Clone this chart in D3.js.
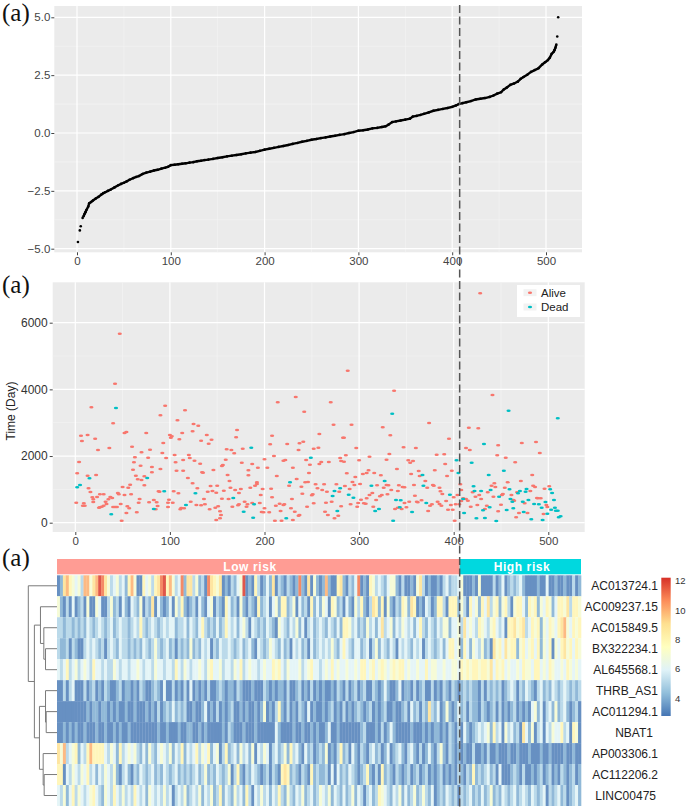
<!DOCTYPE html>
<html>
<head>
<meta charset="utf-8">
<script src="https://cdn.jsdelivr.net/npm/d3@7"></script>
<style>
  body { margin: 0; background: #fff; }
  svg { display: block; font-family: "Liberation Sans", Arial, sans-serif; }
  .panel-tag { font-family: "Liberation Serif", serif; font-size: 25px; fill: #111; }
  .axis path { display: none; }
  .axis line { stroke: #444; }
</style>
</head>
<body>
<div id="chart"></div>
<script>
// risk score curve
var riskRank = [1,3,4,6,7,8,9,10,12,13,15,17,20,23,26,28,30,33,36,40,44,47,50,53,56,60,63,66,70,74,78,82,86,90,94,97,100,104,108,112,116,120,124,128,132,136,140,145,150,155,160,165,170,175,180,185,190,195,200,205,210,215,220,225,230,235,240,245,250,255,260,265,270,275,280,285,290,295,300,305,310,315,320,325,329,332,336,340,345,350,355,358,362,366,370,375,380,385,390,395,400,404,407,411,415,420,425,430,435,440,444,448,452,455,458,462,466,470,473,476,480,484,488,492,496,499,502,504,506,508,509,510,511,512,513];
var riskScore = [-4.71,-4.21,-4.03,-3.67,-3.6,-3.5,-3.42,-3.33,-3.18,-3.04,-2.98,-2.92,-2.83,-2.76,-2.66,-2.6,-2.56,-2.5,-2.44,-2.35,-2.26,-2.2,-2.15,-2.09,-2.02,-1.95,-1.9,-1.86,-1.77,-1.71,-1.67,-1.62,-1.59,-1.54,-1.5,-1.46,-1.39,-1.37,-1.35,-1.33,-1.31,-1.28,-1.26,-1.22,-1.2,-1.17,-1.15,-1.12,-1.08,-1.05,-1.01,-0.98,-0.95,-0.92,-0.88,-0.85,-0.82,-0.77,-0.72,-0.68,-0.64,-0.6,-0.56,-0.52,-0.47,-0.43,-0.38,-0.34,-0.29,-0.26,-0.22,-0.19,-0.15,-0.12,-0.08,-0.05,0,0.04,0.1,0.12,0.15,0.2,0.22,0.26,0.29,0.36,0.47,0.5,0.54,0.58,0.62,0.71,0.74,0.78,0.83,0.89,0.96,1.0,1.04,1.08,1.13,1.19,1.25,1.29,1.33,1.38,1.45,1.48,1.51,1.56,1.62,1.7,1.76,1.88,1.96,2.08,2.14,2.22,2.34,2.42,2.52,2.64,2.72,2.8,2.96,3.06,3.15,3.25,3.42,3.5,3.58,3.68,3.82,4.17,5.0];

// survival time by risk rank, [rank, days]
var alivePoints = [[1,600],[2,1480],[4,1820],[6,2610],[7,2450],[13,2630],[17,3460],[21,2520],[24,2180],[22,1430],[13,1410],[14,1030],[16,920],[18,760],[23,770],[19,620],[19,700],[9,580],[8,510],[10,510],[25,450],[26,460],[28,480],[30,510],[26,850],[30,850],[32,630],[33,560],[35,700],[37,770],[39,740],[36,2240],[40,2980],[42,4170],[47,5670],[45,890],[46,850],[40,470],[42,470],[44,470],[48,560],[49,60],[50,1070],[52,2690],[54,2720],[52,830],[54,290],[55,490],[57,430],[56,1050],[58,1140],[59,850],[60,2280],[61,1590],[63,1960],[62,1810],[64,1410],[65,310],[66,1300],[67,600],[68,710],[69,1710],[70,2110],[70,1280],[73,1390],[73,1120],[75,2690],[77,1950],[79,2190],[78,610],[81,1670],[81,1510],[83,680],[86,610],[87,500],[85,400],[88,940],[89,930],[90,1610],[92,2090],[93,2390],[95,3510],[90,3220],[96,1940],[98,470],[98,600],[99,690],[100,2630],[101,2550],[102,2590],[103,600],[104,940],[105,2030],[106,1810],[107,1560],[109,880],[108,3070],[110,2500],[111,400],[112,440],[113,2690],[114,1560],[114,1880],[116,3370],[115,430],[119,1340],[121,1940],[120,2030],[122,630],[124,2740],[124,1180],[126,1860],[128,530],[125,2960],[130,2910],[133,520],[132,1770],[134,1510],[135,1500],[129,1030],[136,710],[137,550],[139,2630],[141,2370],[133,2460],[144,2490],[142,400],[143,1100],[145,950],[140,930],[146,1580],[149,900],[149,80],[153,130],[154,230],[153,340],[151,490],[148,450],[150,1110],[155,720],[156,1730],[155,1700],[157,960],[159,1890],[161,1430],[163,1250],[164,1050],[166,480],[162,710],[160,2200],[165,2180],[168,2080],[169,980],[170,2560],[171,2780],[172,520],[173,550],[173,890],[175,1010],[176,1800],[177,2220],[179,630],[181,480],[182,550],[183,1570],[183,1420],[185,1050],[187,1760],[187,590],[190,1110],[192,1210],[192,1160],[193,1650],[195,590],[196,830],[198,1010],[197,320],[199,310],[200,1900],[200,430],[203,1650],[205,310],[207,1020],[206,2350],[208,2610],[208,760],[210,2000],[213,1400],[212,510],[214,3610],[216,570],[217,350],[211,60],[218,60],[220,1860],[222,1880],[220,530],[221,550],[224,2360],[226,1110],[228,430],[229,710],[230,1650],[233,3770],[234,1310],[232,330],[236,2180],[236,210],[230,80],[237,230],[237,2380],[239,1080],[241,2430],[242,3330],[240,870],[244,1880],[245,480],[243,1210],[246,1220],[247,1490],[248,1740],[252,2220],[250,820],[251,850],[257,2250],[252,580],[254,1150],[256,1030],[258,1760],[258,2660],[260,1820],[261,980],[263,1150],[264,330],[265,600],[267,230],[266,930],[268,1820],[270,3610],[271,630],[273,2940],[274,130],[276,1150],[278,210],[279,930],[280,1940],[281,1850],[283,2550],[281,490],[288,4560],[292,2940],[284,2550],[286,2020],[297,2240],[300,1870],[284,1830],[311,1980],[290,1010],[287,1480],[296,1370],[293,1220],[295,1130],[301,1160],[285,1100],[302,690],[308,730],[307,570],[305,580],[299,590],[298,480],[291,550],[311,830],[314,890],[304,1460],[308,1490],[310,1570],[316,1490],[323,1420],[319,1120],[318,680],[315,480],[322,790],[324,830],[326,1050],[329,1130],[331,1120],[330,850],[334,980],[325,2860],[333,2620],[332,2060],[329,1890],[337,3960],[340,1610],[342,1120],[341,950],[338,410],[341,450],[345,410],[346,1070],[348,1060],[347,2260],[348,590],[350,460],[353,630],[352,1870],[354,1800],[357,1850],[355,1460],[358,1130],[359,810],[360,2240],[361,630],[362,610],[363,1550],[364,1400],[366,670],[370,1250],[372,1050],[373,350],[374,2990],[375,510],[377,550],[378,1130],[379,1110],[380,1570],[382,2040],[383,630],[385,1050],[385,560],[386,940],[387,510],[388,860],[390,2050],[391,1760],[392,650],[393,1400],[394,390],[395,2520],[397,530],[398,1560],[399,390],[401,60],[400,760],[402,550],[404,830],[406,550],[407,1150],[408,980],[408,650],[410,730],[413,710],[413,2240],[415,660],[416,2850],[417,2180],[418,480],[420,910],[423,780],[425,530],[426,2830],[427,830],[429,710],[433,410],[435,510],[436,910],[440,1110],[441,3830],[442,780],[443,1180],[444,1070],[446,2020],[447,2320],[447,340],[450,540],[451,830],[452,860],[454,1050],[455,1950],[457,1210],[461,830],[463,680],[464,660],[465,1810],[466,160],[467,910],[469,290],[471,1250],[472,2390],[475,580],[478,290],[481,950],[483,1430],[484,1110],[486,1070],[487,2420],[488,740],[489,730],[491,2090],[492,730],[495,260],[496,1020],[498,530],[499,470],[501,1090],[428,6880]];
var deadPoints = [[2,1060],[5,1130],[15,1330],[38,250],[43,3440],[76,1340],[83,410],[94,940],[117,530],[127,880],[167,740],[178,330],[186,2250],[188,150],[189,550],[223,130],[227,1210],[249,1950],[272,800],[274,950],[277,350],[280,1030],[335,3270],[327,1250],[313,1110],[289,840],[294,750],[317,350],[321,410],[336,60],[339,680],[344,670],[343,460],[356,320],[367,1430],[368,1110],[371,590],[396,840],[403,1870],[405,1490],[410,710],[411,290],[419,1800],[421,1090],[422,950],[424,130],[429,950],[431,370],[432,2360],[433,140],[437,1430],[438,460],[439,980],[445,50],[448,780],[453,1560],[456,380],[458,3360],[459,1000],[460,710],[462,630],[463,430],[468,880],[470,950],[473,630],[474,320],[476,930],[477,1010],[479,680],[482,100],[485,560],[490,550],[493,450],[494,80],[497,620],[499,270],[502,1000],[503,390],[504,890],[506,680],[507,450],[508,360],[510,360],[510,3130],[511,160],[513,190]];

var xTicks = [0, 100, 200, 300, 400, 500];
var cutoffRank = 407;

// heatmap: gene names and expression, left to right in risk order
var genes = ["AC013724.1","AC009237.15","AC015849.5","BX322234.1","AL645568.1","THRB_AS1","AC011294.1","NBAT1","AP003306.1","AC112206.2","LINC00475"];
var exprAC013724 = [3,4,9,10,8,7,6,7,5,10,10,7,9,10,12,11,9,7,5,6,7,5,6,4,8,10,7,3,3,8,6,7,5,8,9,11,12,8,10,7,5,6,11,4,9, 9,5,7,4,5,3,11,9,8,7,9,3,4,3,5,4,6,7,12,3,4,3,8,5,3,4,6,4,9,3,5,4,3,5,4,3,4,11,4,3,9,3,7,4,3, 4,10,4,3,3,8,9,4,3,5,4,6,11,3,4,3,8,7,5,6,5,4,6,7,7,4,3,5,3,3,4,3,7,9,5,3,4,3,3,4,3,5,6,4,5, 5,6,7,3,3,3,4,3,7,3,3,3,3,5,3,4,6,3,4,5,4,5,6,4,3,3,3,3,4,3,3,6,3,3,4,3,3,4,3,3,5,3,4];
var exprAC009237 = [7,4,3,5,3,6,3,4,5,3,7,3,3,7,6,3,3,5,7,4,5,3,6,4,3,6,5,4,7,3,5,4,9,3,6,4,3,4,6,3,7,5,8,4,3, 4,5,3,6,4,3,6,7,3,5,4,3,8,6,4,5,3,7,4,3,5,4,3,8,4,5,6,3,6,7,4,8,8,4,5,7,3,6,4,5,3,8,4,6,4, 7,6,3,8,7,4,5,3,6,4,3,7,5,8,4,3,5,9,8,4,8,3,7,4,3,5,4,8,7,4,9,8,3,4,3,6,5,3,4,8,8,5,3,8,8, 8,4,7,5,3,8,6,7,4,8,6,9,5,7,8,4,7,8,5,3,7,8,8,6,4,8,7,8,4,7,6,8,7,4,6,8,8,7,9,5,8,8,7];
var exprAC015849 = [5,5,4,5,5,4,5,4,5,4,6,5,4,5,6,5,4,5,6,4,5,6,5,5,4,5,6,5,8,5,4,5,6,5,4,5,6,5,6,6,4,5,5,6,4, 6,5,4,6,8,5,4,5,4,6,4,5,8,6,5,6,4,6,7,5,3,6,5,4,5,4,6,5,4,3,7,6,5,4,6,5,7,4,6,3,5,6,4,5,6, 5,4,6,5,4,6,4,8,8,7,5,6,4,5,4,7,5,6,4,6,9,5,6,7,4,6,5,7,6,5,6,4,6,8,5,4,6,5,4,6,5,7,7,4,6, 6,7,5,9,6,7,6,5,8,7,6,5,7,8,6,5,6,3,8,8,9,7,8,9,5,6,8,7,8,4,7,6,8,7,6,8,9,10,7,6,8,7,8];
var exprBX322234 = [5,4,4,5,3,5,4,3,3,5,6,5,6,5,4,5,3,5,6,5,4,6,5,5,4,5,4,5,4,6,5,4,5,7,5,4,5,6,4,5,3,5,4,5,4, 7,4,5,4,6,5,6,3,5,4,6,5,5,6,5,4,5,6,4,5,6,4,3,6,5,4,5,7,6,5,4,6,4,5,3,6,5,6,4,5,3,6,4,5,6, 5,6,5,7,5,4,6,8,6,5,4,6,6,4,5,6,3,5,7,4,6,5,4,6,5,3,6,5,6,5,4,6,5,6,3,5,6,5,4,5,6,4,6,8,8, 6,7,4,8,6,4,7,6,5,7,4,5,3,9,7,8,6,9,7,8,8,4,7,8,6,7,8,6,8,4,7,6,8,3,7,6,8,9,7,8,6,8,7];
var exprAL645568 = [6,5,6,8,5,6,7,5,6,7,6,5,8,6,6,5,6,5,5,7,6,5,6,6,5,6,6,7,6,5,6,6,5,7,6,6,5,6,6,5,8,6,5,7,6, 5,6,6,7,6,5,7,8,6,6,7,5,6,6,5,7,6,8,5,6,7,6,6,5,6,7,6,6,8,7,8,6,5,7,6,6,6,7,5,6,7,8,6,6,5, 6,7,6,8,6,7,6,6,7,6,6,7,6,8,8,6,7,8,6,7,8,7,6,7,8,7,8,8,6,7,6,6,7,6,6,8,6,7,7,6,6,7,6,6,7, 7,6,8,7,8,7,8,8,7,8,8,7,9,6,8,7,8,6,7,6,6,7,6,8,7,7,6,8,8,6,7,6,8,7,6,6,7,6,8,7,6,7,6];
var exprTHRB = [3,3,5,3,5,6,3,3,3,5,3,4,5,3,4,3,5,4,3,3,4,5,3,4,4,3,4,3,5,4,3,3,4,5,4,3,6,3,3,5,3,4,3,5,3, 6,3,4,3,4,3,5,3,3,4,5,4,3,4,4,3,5,4,3,3,3,4,3,3,3,5,4,3,4,3,4,4,3,5,3,3,4,5,3,4,3,5,3,4,3, 4,3,3,4,3,5,4,3,5,3,4,5,3,4,5,3,3,5,4,3,4,6,4,3,3,4,6,3,4,4,3,5,3,4,5,3,3,5,3,4,3,5,4,3,5, 4,3,4,5,4,5,4,4,3,5,3,5,4,5,4,5,3,4,5,6,5,3,5,4,6,5,4,3,5,6,4,5,4,6,5,4,5,6,5,4,5,4,5];
var exprAC011294 = [3,3,3,3,3,3,3,3,3,3,4,3,4,4,3,4,4,3,4,3,4,3,3,4,3,3,4,3,3,3,4,3,4,3,5,3,4,5,4,6,4,5,4,5,3, 3,4,3,3,4,6,3,4,3,5,3,4,3,4,5,3,3,4,3,4,3,3,4,3,4,7,3,4,3,5,8,4,3,5,3,4,3,5,4,3,6,3,4,3,3, 4,3,4,5,3,4,3,5,3,4,3,4,5,4,3,4,5,3,4,3,4,5,3,3,4,3,3,4,5,3,6,4,5,3,5,4,9,5,4,6,3,4,7,4,3, 4,6,4,5,3,5,4,4,3,5,4,3,4,5,3,5,3,4,3,4,5,3,4,3,4,3,6,7,4,6,3,5,6,4,7,4,5,6,4,3,4,5,3];
var exprNBAT1 = [3,3,4,3,4,3,4,3,3,4,3,3,3,4,3,3,4,3,3,4,3,4,3,3,4,3,3,3,3,3,3,3,3,3,4,3,3,4,3,3,3,4,3,3,4, 4,3,3,4,3,4,3,3,3,3,3,4,3,5,4,3,3,3,4,3,3,3,4,3,3,3,3,3,3,6,4,3,3,3,3,4,3,3,4,3,3,4,3,4,3, 3,4,6,3,3,4,3,3,3,3,3,3,3,4,5,3,3,3,4,3,5,3,4,6,4,3,3,3,3,3,4,3,3,3,4,3,4,3,4,4,3,4,3,5,4, 3,5,3,6,4,3,4,5,6,5,6,7,4,8,5,6,3,7,5,6,4,5,3,9,6,4,7,3,5,6,3,6,5,7,6,6,8,5,6,3,8,7,3];
var exprAP003306 = [9,7,10,5,6,7,8,4,6,5,8,10,8,8,8,8,6,5,7,6,4,8,5,6,7,6,7,5,4,6,4,7,5,4,6,7,6,5,7,4,6,5,8,4,6, 5,6,8,5,7,6,8,4,6,7,3,5,8,4,5,6,4,7,5,6,4,7,3,6,5,7,6,3,5,6,4,5,7,4,8,5,6,4,3,6,4,5,3,4,5, 4,7,3,4,3,5,8,4,5,3,6,4,3,5,4,3,5,6,4,5,3,4,6,3,4,5,6,4,3,5,6,4,3,5,3,4,6,4,3,5,7,4,3,5,4, 3,4,3,4,3,3,5,3,3,4,3,5,3,3,4,3,3,3,4,3,3,4,3,3,3,4,3,3,3,4,3,3,4,3,3,3,3,4,3,3,4,3,3];
var exprAC112206 = [8,8,3,6,5,7,6,5,7,6,8,5,6,4,6,5,7,6,5,7,4,3,5,6,4,3,5,4,6,5,4,5,6,4,5,4,6,5,4,5,6,4,5,4,5, 4,5,6,4,5,7,4,5,4,6,5,4,5,7,3,5,8,4,3,5,4,6,5,4,3,4,5,3,5,4,3,8,9,8,4,5,4,3,5,4,3,8,4,5,4, 4,5,3,6,3,6,4,5,4,6,5,4,3,4,5,8,4,3,5,3,8,4,5,4,3,5,4,3,4,5,3,4,5,3,4,5,3,4,3,4,5,3,4,3,4, 3,5,4,3,5,4,8,4,5,4,5,6,4,5,3,6,3,3,3,4,5,4,3,5,3,3,4,3,4,5,3,4,5,3,4,3,5,4,3,4,5,3,4];
var exprLINC00475 = [6,5,7,4,6,8,5,7,6,5,6,7,8,6,5,4,7,6,5,8,6,5,7,5,6,5,8,6,5,6,4,7,6,5,6,5,7,5,6,3,5,6,5,7,4, 5,6,5,7,4,6,5,7,4,5,8,4,6,5,4,7,5,6,4,8,5,3,6,5,7,5,6,4,6,5,8,5,4,7,5,4,6,5,7,4,5,6,4,5,7, 6,5,7,4,6,5,4,6,4,5,7,4,6,5,3,5,6,4,5,8,7,6,5,4,6,5,7,4,6,4,5,7,4,5,7,5,4,6,3,4,5,4,6,5,4, 5,3,5,4,5,6,4,5,4,6,4,5,7,4,5,4,6,5,4,5,6,4,5,6,5,4,6,5,4,5,6,3,5,4,5,6,4,5,3,4,5,6,4];
var exprRows = [exprAC013724, exprAC009237, exprAC015849, exprBX322234, exprAL645568, exprTHRB, exprAC011294, exprNBAT1, exprAP003306, exprAC112206, exprLINC00475];

var colorTicks = [4, 6, 8, 10, 12];
var colorStops = ["#4575B4","#91BFDB","#E0F3F8","#FFFFBF","#FEE090","#FC8D59","#D73027"];

// row clustering, h = merge height, row = leaf
var dendroTree = {h: 8.5, c: [
  {row: 0},
  {h: 6.7, c: [
    {h: 4.9, c: [
      {row: 1},
      {h: 3.9, c: [{row: 2}, {h: 3.4, c: [{row: 3}, {row: 4}]}]}
    ]},
    {h: 5.2, c: [
      {h: 3.4, c: [{row: 5}, {h: 3.2, c: [{row: 6}, {row: 7}]}]},
      {h: 4.1, c: [{row: 8}, {h: 3.8, c: [{row: 9}, {row: 10}]}]}
    ]}
  ]}
]};

var svgWidth = 687;
var svgHeight = 809;

var svg = d3.select("#chart").append("svg")
    .attr("width", svgWidth)
    .attr("height", svgHeight);

// --- top panel: risk score ---
var p1 = {left: 54.3, right: 582, top: 6, bottom: 252.3};
var xRisk = d3.scaleLinear().domain([0, 500]).range([77, 546]);
var yRisk = d3.scaleLinear().domain([-5, 5]).range([248.7, 17.3]);

// ggplot style background and grid
function drawGrid(p, xs, ys, xMajor, xMinor, yMajor, yMinor) {
    var g = svg.append("g");
    g.append("rect")
        .attr("x", p.left).attr("y", p.top)
        .attr("width", p.right - p.left).attr("height", p.bottom - p.top)
        .attr("fill", "#EBEBEB");
    g.selectAll(".vminor").data(xMinor).enter().append("line")
        .attr("x1", d => xs(d)).attr("x2", d => xs(d))
        .attr("y1", p.top).attr("y2", p.bottom)
        .attr("stroke", "#F4F4F4").attr("stroke-width", 0.7);
    g.selectAll(".hminor").data(yMinor).enter().append("line")
        .attr("y1", d => ys(d)).attr("y2", d => ys(d))
        .attr("x1", p.left).attr("x2", p.right)
        .attr("stroke", "#F4F4F4").attr("stroke-width", 0.7);
    g.selectAll(".vmajor").data(xMajor).enter().append("line")
        .attr("x1", d => xs(d)).attr("x2", d => xs(d))
        .attr("y1", p.top).attr("y2", p.bottom)
        .attr("stroke", "#fff").attr("stroke-width", 1.2);
    g.selectAll(".hmajor").data(yMajor).enter().append("line")
        .attr("y1", d => ys(d)).attr("y2", d => ys(d))
        .attr("x1", p.left).attr("x2", p.right)
        .attr("stroke", "#fff").attr("stroke-width", 1.2);
}

drawGrid(p1, xRisk, yRisk, xTicks, [50,150,250,350,450], [-5,-2.5,0,2.5,5], [-3.75,-1.25,1.25,3.75]);

var riskPts = riskRank.map((r, i) => [r, riskScore[i]]);
var riskLine = d3.line().x(d => xRisk(d[0])).y(d => yRisk(d[1]));
svg.append("path")
    .datum(riskPts.filter(d => d[0] >= 7 && d[0] <= 511))
    .attr("d", riskLine)
    .attr("fill", "none")
    .attr("stroke", "#000")
    .attr("stroke-width", 2.4);
svg.append("g").selectAll("circle").data(riskPts).enter().append("circle")
    .attr("cx", d => xRisk(d[0]))
    .attr("cy", d => yRisk(d[1]))
    .attr("r", 1.3)
    .attr("fill", "#000");

function styleAxis(g, size, color) {
    g.attr("class", "axis");
    g.selectAll("text").style("font-size", size + "px").attr("fill", color);
}

svg.append("g")
    .attr("transform", "translate(54.3,0)")
    .call(d3.axisLeft(yRisk).tickValues([-5,-2.5,0,2.5,5]).tickFormat(d3.format(".1f")).tickSize(3).tickPadding(1))
    .call(styleAxis, 11.5, "#444");
svg.append("g")
    .attr("transform", "translate(0,252.3)")
    .call(d3.axisBottom(xRisk).tickValues(xTicks).tickFormat(d3.format("d")).tickSize(3).tickPadding(2))
    .call(styleAxis, 11.5, "#444");

// --- middle panel: survival time ---
var p2 = {left: 52.7, right: 584.7, top: 282.3, bottom: 532};
var xTime = d3.scaleLinear().domain([0, 500]).range([75.3, 548.3]);
var yTime = d3.scaleLinear().domain([0, 6000]).range([522.7, 322.7]);

drawGrid(p2, xTime, yTime, xTicks, [50,150,250,350,450], [0,2000,4000,6000], [1000,3000,5000]);

function drawTimeDots(points, color) {
    svg.append("g").selectAll("ellipse").data(points).enter().append("ellipse")
        .attr("cx", d => xTime(d[0]))
        .attr("cy", d => yTime(d[1]))
        .attr("rx", 2.1)
        .attr("ry", 1.25)
        .attr("fill", color);
}
drawTimeDots(alivePoints, "#F8766D");
drawTimeDots(deadPoints, "#00BFC4");

svg.append("g")
    .attr("transform", "translate(52.7,0)")
    .call(d3.axisLeft(yTime).tickValues([0,2000,4000,6000]).tickFormat(d3.format("d")).tickSize(3).tickPadding(2))
    .call(styleAxis, 12, "#333");
svg.append("g")
    .attr("transform", "translate(0,532)")
    .call(d3.axisBottom(xTime).tickValues(xTicks).tickFormat(d3.format("d")).tickSize(3).tickPadding(2))
    .call(styleAxis, 11.5, "#444");

svg.append("text")
    .attr("transform", "translate(15,411) rotate(-90)")
    .attr("text-anchor", "middle")
    .style("font-size", "12px")
    .attr("fill", "#222")
    .text("Time (Day)");

// legend
var legend = svg.append("g");
legend.append("rect")
    .attr("x", 517).attr("y", 285).attr("width", 63).attr("height", 32)
    .attr("fill", "#fff");
var legendItems = [["Alive", "#F8766D", 292.7], ["Dead", "#00BFC4", 307]];
legendItems.forEach(function(it) {
    legend.append("rect")
        .attr("x", 523.5).attr("y", it[2] - 3.5).attr("width", 13).attr("height", 7)
        .attr("fill", "#F2F2F2");
    legend.append("ellipse")
        .attr("cx", 530).attr("cy", it[2]).attr("rx", 2.1).attr("ry", 1.25)
        .attr("fill", it[1]);
    legend.append("text")
        .attr("x", 541).attr("y", it[2] + 4)
        .style("font-size", "11.5px")
        .attr("fill", "#222")
        .text(it[0]);
});

// --- bottom panel: heatmap ---
var heatLeft = 57, heatRight = 581, heatTop = 575.3, heatBottom = 806;
var cutX = 459.7;

svg.append("rect").attr("x", heatLeft).attr("y", 559).attr("width", cutX - heatLeft).attr("height", 15.3).attr("fill", "#FF9C94");
svg.append("rect").attr("x", cutX).attr("y", 559).attr("width", heatRight - cutX).attr("height", 15.3).attr("fill", "#00D8DF");
svg.append("text").attr("x", 250).attr("y", 570.5).attr("text-anchor", "middle")
    .style("font-size", "12px").style("font-weight", "bold").style("letter-spacing", "0.6px")
    .attr("fill", "#fff").text("Low risk");
svg.append("text").attr("x", 522).attr("y", 570.5).attr("text-anchor", "middle")
    .style("font-size", "12px").style("font-weight", "bold").style("letter-spacing", "0.6px")
    .attr("fill", "#fff").text("High risk");

var yRow = d3.scaleBand().domain(d3.range(genes.length)).range([heatTop, heatBottom]);
var colorDomain = d3.range(colorStops.length).map(i => 2.8 + i * (12.2 - 2.8) / (colorStops.length - 1));
var heatColor = d3.scaleLinear().domain(colorDomain).range(colorStops);

exprRows.forEach(function(values, row) {
    var xCol = d3.scaleBand().domain(d3.range(values.length)).range([heatLeft, heatRight]);
    svg.append("g").attr("opacity", 0.86).selectAll("rect").data(values).enter().append("rect")
        .attr("x", (d, i) => xCol(i))
        .attr("y", yRow(row))
        .attr("width", xCol.bandwidth() + 0.3)
        .attr("height", yRow.bandwidth())
        .attr("fill", d => heatColor(d));
});

var labelNudge = {"NBAT1": -5, "LINC00475": -2};
svg.append("g").selectAll("text").data(genes).enter().append("text")
    .attr("x", d => 658 + (labelNudge[d] || 0))
    .attr("y", (d, i) => yRow(i) + yRow.bandwidth() / 2 + 4)
    .attr("text-anchor", "end")
    .style("font-size", "12px")
    .attr("fill", "#222")
    .text(d => d);

// color bar
var yColor = d3.scaleLinear().domain([2.8, 12.2]).range([716, 577.7]);
var gradient = svg.append("defs").append("linearGradient")
    .attr("id", "heatGrad")
    .attr("x1", "0%").attr("y1", "100%").attr("x2", "0%").attr("y2", "0%");
colorStops.forEach(function(c, i) {
    gradient.append("stop").attr("offset", (i / (colorStops.length - 1)) * 100 + "%").attr("stop-color", c);
});
svg.append("rect")
    .attr("x", 661.3).attr("y", 577.7).attr("width", 9.4).attr("height", 138.3)
    .attr("fill", "url(#heatGrad)");
svg.append("g").selectAll("text").data(colorTicks).enter().append("text")
    .attr("x", 675)
    .attr("y", d => yColor(d) + 3.5)
    .style("font-size", "9.5px")
    .attr("fill", "#333")
    .text(d => d);

// dendrogram, leaves sit at the row centres and merges at the middle of their children
var xDendro = d3.scaleLinear().domain([0, 8.5]).range([heatLeft, 28.3]);
var dendroRoot = d3.hierarchy(dendroTree, d => d.c);
dendroRoot.eachAfter(function(n) {
    if (n.children) {
        n.yPos = d3.mean(n.children, c => c.yPos);
        n.xPos = xDendro(n.data.h);
    } else {
        n.yPos = yRow(n.data.row) + yRow.bandwidth() / 2;
        n.xPos = heatLeft;
    }
});
var dendroPath = d3.path();
dendroRoot.each(function(n) {
    if (!n.children) return;
    var a = n.children[0], b = n.children[1];
    dendroPath.moveTo(a.xPos, a.yPos);
    dendroPath.lineTo(n.xPos, a.yPos);
    dendroPath.lineTo(n.xPos, b.yPos);
    dendroPath.lineTo(b.xPos, b.yPos);
});
svg.append("path")
    .attr("d", dendroPath.toString())
    .attr("fill", "none")
    .attr("stroke", "#7A7A7A")
    .attr("stroke-width", 1);

// cutoff line runs through all three panels
svg.append("line")
    .attr("x1", xRisk(cutoffRank) + 0.9).attr("x2", xRisk(cutoffRank) + 0.9)
    .attr("y1", 5).attr("y2", 809)
    .attr("stroke", "#555")
    .attr("stroke-width", 1.5)
    .attr("stroke-dasharray", "8,3.5");

// panel tags
var tagY = [21, 293, 566];
svg.append("g").selectAll("text").data(tagY).enter().append("text")
    .attr("class", "panel-tag")
    .attr("x", 2)
    .attr("y", d => d)
    .text("(a)");
</script>
</body>
</html>
